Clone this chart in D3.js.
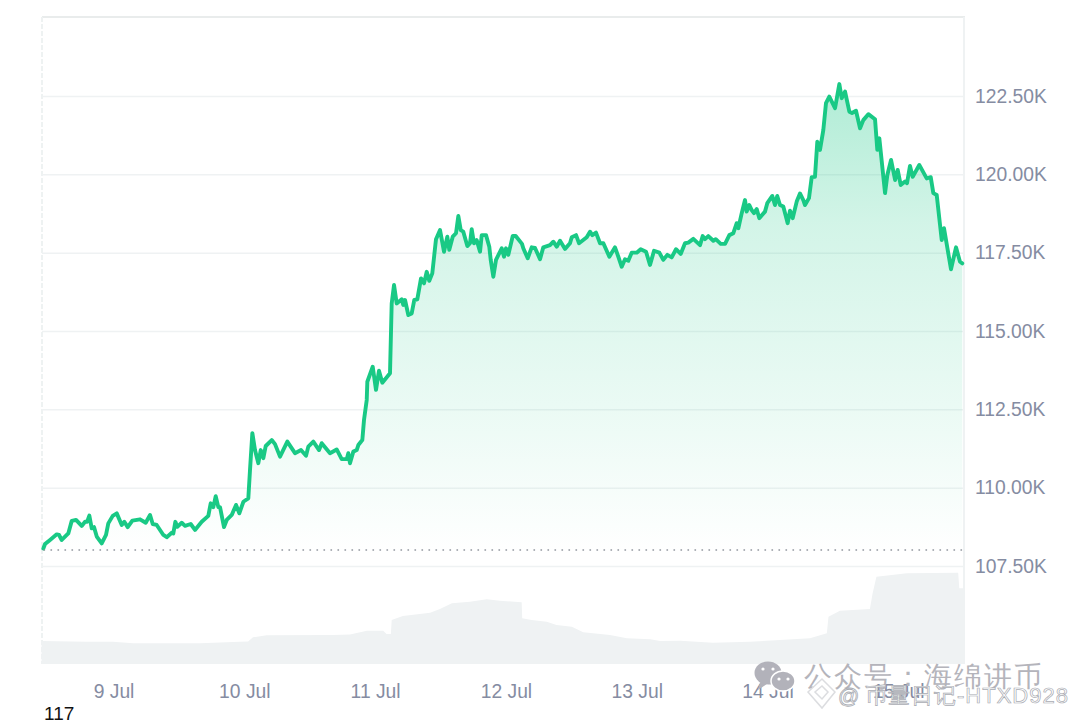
<!DOCTYPE html>
<html><head><meta charset="utf-8">
<script src="https://cdn.jsdelivr.net/npm/d3@7/dist/d3.min.js"></script>
<style>
html,body{margin:0;padding:0;background:#fff;overflow:hidden}
svg{display:block}
text{font-family:"Liberation Sans",Arial,sans-serif}
</style></head><body><svg id="c" width="1080" height="720"></svg>
<script>
// hours since 9 Jul 00:00 UTC
const priceHours=[-12.97,-12.66,-11.74,-10.51,-10.09,-9.6,-8.39,-7.76,-6.97,-5.93,-5.32,-4.95,-4.53,-4.09,-3.67,-3.17,-2.26,-1.47,-1.05,-0.24,0.5,1.41,1.89,2.51,3.36,4.77,5.82,6.61,7.1,7.83,9.05,9.67,10.59,10.88,11.25,11.61,12.42,13.03,14.07,14.86,16.09,17.3,17.74,18.22,18.66,19.14,19.45,20.18,20.68,21.6,22.39,22.99,23.73,24.64,24.95,25.38,25.87,26.48,26.92,27.4,27.84,28.94,29.54,30.46,31.8,33.21,34.31,35.23,35.65,36.57,37.62,38.11,39.63,40.86,41.78,42.7,42.99,43.3,43.91,44.53,44.83,45.56,45.87,46.37,46.48,47.47,48.07,48.62,49.23,50.64,50.95,51.38,51.87,52.79,53.08,53.4,54,54.62,55.1,55.65,56.33,56.88,57.38,57.85,58.4,59.08,59.82,60.55,61.16,61.52,62.15,62.75,63.18,63.62,64.09,64.83,65.32,65.63,66.05,66.55,67.16,67.47,68.26,68.86,69.12,69.6,70.09,71.14,71.56,71.93,72.35,73.16,73.71,74.86,75.1,75.91,76.64,77.25,78.17,78.77,80,80.61,81.23,81.84,82.76,83.67,83.99,84.78,85.33,86.74,87.34,87.77,88.44,89.18,89.79,90.89,91.93,92.54,93.16,93.76,94.37,94.99,95.91,96.64,97.62,98.35,99.09,100.06,100.79,101.53,102.33,103.12,103.98,104.77,105.38,106.3,107.53,108.02,108.44,109.05,109.97,110.41,111.33,112.12,112.91,113.64,114.26,114.56,115.18,115.78,116.09,116.57,117.01,117.43,117.93,118.41,119.45,119.87,120.79,121.28,121.7,122.2,122.81,123.61,124.04,124.53,125.27,125.87,126.48,126.79,127.52,128.02,128.62,129.05,129.54,130.15,130.64,131.25,132.3,133.09,133.53,134.14,134.93,135.42,136.15,136.89,137.49,138.41,139.64,140.06,140.43,141.48,141.9,142.58,143.32,143.8,144.35,145.14,145.51,146.06,146.55,147.76,149.12,149.86,150.34,150.96,151.88,152.3,153.58,154.5,155.23,155.65];
// price in thousands of USD
const priceValues=[108.06,108.2,108.33,108.51,108.49,108.33,108.54,108.94,108.97,108.78,108.91,108.91,109.11,108.7,108.74,108.44,108.22,108.49,108.86,109.1,109.18,108.81,108.91,108.74,108.95,108.99,108.88,109.13,108.84,108.81,108.49,108.42,108.56,108.54,108.91,108.75,108.88,108.78,108.84,108.65,108.91,109.1,109.5,109.38,109.73,109.38,109.38,108.74,108.97,109.13,109.45,109.18,109.55,109.66,110.56,111.74,111.2,110.78,111.2,110.94,111.33,111.52,111.39,110.99,111.47,111.1,111.2,111.02,111.31,111.47,111.2,111.42,111.1,111.22,110.91,110.91,111.1,110.78,111.15,111.2,111.36,111.52,112.16,112.8,113.38,113.86,113.12,113.73,113.35,113.65,115.88,116.47,115.88,116.01,115.83,115.99,115.51,115.56,115.99,116.01,116.68,116.52,116.89,116.6,116.84,117.93,118.22,117.53,118.01,117.59,118.01,118.12,118.67,118.22,118.17,117.71,117.8,118.25,117.8,117.9,117.53,118.06,118.06,117.69,117.27,116.73,117.27,117.64,117.37,117.64,117.43,118.03,118.03,117.78,117.64,117.32,117.67,117.65,117.29,117.67,117.74,117.85,117.69,117.88,117.62,117.8,117.99,118.06,117.8,117.99,118.17,118.06,118.14,117.8,117.8,117.37,117.67,117.37,117.05,117.29,117.24,117.5,117.5,117.61,117.53,117.11,117.56,117.5,117.27,117.43,117.35,117.61,117.46,117.8,117.82,117.94,117.74,118.03,117.93,118.03,117.88,117.93,117.78,117.78,118.06,118.12,118.44,118.28,118.76,119.18,118.81,119.02,118.86,118.76,118.89,118.6,118.81,119.08,119.31,119.02,119.31,119.02,118.97,118.44,118.84,118.6,119.13,119.39,119.18,119.02,119.24,119.91,119.92,121.04,120.78,121.41,122.27,122.48,122.11,122.88,122.43,122.64,122,121.96,122.03,121.47,121.73,121.92,121.76,120.78,121.15,119.4,119.98,120.46,119.82,120.14,119.66,119.77,119.72,120.27,119.92,120.3,119.87,119.91,119.4,119.34,117.9,118.28,116.97,117.67,117.21,117.16];
const volumeHours=[-13.3,-5,-0.2,3.5,15.8,23.1,24.6,25.5,28,40.2,43.3,46.4,47,49.4,50,50.8,50.95,53,58,59.8,62,65.3,68.4,70.8,74.8,74.9,76.6,79.4,81.2,84,86.1,91,94.1,98.4,100.2,103.9,109.9,116.7,122.2,127.7,130.8,131.1,133.2,138.7,139.2,139.9,145.5,154.9,155.1,156];
const volumeValues=[23,22.3,22.3,20.7,20.7,22.3,22.5,26.7,28.7,29,29.5,33.3,33.3,33.3,30,30,44,48,51.3,55,60.7,62.3,64.7,63.3,61.7,45.7,44,42.3,39,37.3,31.7,29,25.7,24.7,23,23.3,21.3,22.3,24,25.7,30.7,47.3,53.3,55,70.7,87.3,90.7,91.3,75.7,75.7];
const priceTicks=[107.5,110,112.5,115,117.5,120,122.5];
const openingPrice=108.01;
const dayLabels=["9 Jul","10 Jul","11 Jul","12 Jul","13 Jul","14 Jul","15 Jul"];
const startDate="2025-07-08T10:47:00Z", endDate="2025-07-15T11:58:00Z", zeroHour="2025-07-09T00:00:00Z";

const toDate=h=>new Date(+new Date(zeroHour)+h*36e5);
const L=42,R=964,T=17,B=566,VB=664;
const svg=d3.select("#c");
const x=d3.scaleUtc().domain([new Date(startDate),new Date(endDate)]).range([L,R]);
const y=d3.scaleLinear().domain([107.5,122.5]).range([B,96]);
const v=d3.scaleLinear().domain([0,100]).range([VB,VB-100]);

const defs=svg.append("defs");
const g=defs.append("linearGradient").attr("id","fade").attr("gradientUnits","userSpaceOnUse")
  .attr("x1",0).attr("x2",0).attr("y1",y(122.88)).attr("y2",y(107.9));
g.append("stop").attr("offset",0).attr("stop-color","#16c784").attr("stop-opacity",0.34);
g.append("stop").attr("offset",0.3).attr("stop-color","#16c784").attr("stop-opacity",0.19);
g.append("stop").attr("offset",0.7).attr("stop-color","#16c784").attr("stop-opacity",0.085);
g.append("stop").attr("offset",1).attr("stop-color","#16c784").attr("stop-opacity",0);

// frame
svg.append("line").attr("x1",L).attr("x2",R+1).attr("y1",T).attr("y2",T).attr("stroke","#e9ecec").attr("stroke-width",2);
svg.append("line").attr("x1",L).attr("x2",L).attr("y1",T).attr("y2",VB).attr("stroke","#eef2f2").attr("stroke-width",2).attr("stroke-dasharray","5 2");
svg.append("line").attr("x1",R).attr("x2",R).attr("y1",T).attr("y2",VB).attr("stroke","#eff2f3").attr("stroke-width",2);

// y axis + grid
const ya=svg.append("g").attr("transform",`translate(${R},0)`)
  .call(d3.axisRight(y).tickValues(priceTicks).tickSize(-(R-L)).tickPadding(11).tickFormat(d=>d3.format(".2f")(d)+"K"));
ya.select(".domain").remove();
ya.selectAll("line").attr("stroke","#eff2f3").attr("stroke-width",1.5);
ya.selectAll("text").attr("fill","#858ca2").attr("font-size",19.3).attr("font-family",'"Liberation Sans",Arial,sans-serif');

// volume
const prs=priceHours.map((h,i)=>({d:toDate(h),p:priceValues[i]}));
const vols=volumeHours.map((h,i)=>({d:toDate(h),q:volumeValues[i]}));
svg.append("clipPath").attr("id","plot").append("rect").attr("x",L-1).attr("y",T).attr("width",R-L+2).attr("height",VB-T);
const layer=svg.append("g").attr("clip-path","url(#plot)");
layer.append("path").datum(vols).attr("fill","#eff2f3")
  .attr("d",d3.area().x(d=>x(d.d)).y0(v(0)).y1(d=>v(d.q)));

// price area and line
layer.append("path").datum(prs).attr("fill","url(#fade)")
  .attr("d",d3.area().x(d=>x(d.d)).y0(y(107.5)).y1(d=>y(d.p)));
svg.append("line").attr("x1",L+2).attr("x2",R-2).attr("y1",y(openingPrice)).attr("y2",y(openingPrice))
  .attr("stroke","#8a8f98").attr("stroke-width",1.4).attr("stroke-linecap","round").attr("stroke-dasharray","0.5 6.5");
layer.append("path").datum(prs).attr("fill","none").attr("stroke","#19c985").attr("stroke-width",3.9)
  .attr("stroke-linejoin","round").attr("stroke-linecap","round")
  .attr("d",d3.line().x(d=>x(d.d)).y(d=>y(d.p)));

// x axis
const dayTicks=dayLabels.map((_,i)=>toDate(i*24));
const xa=svg.append("g").attr("transform",`translate(-0.5,${VB})`)
  .call(d3.axisBottom(x).tickValues(dayTicks).tickSize(0).tickPadding(20).tickFormat((d,i)=>dayLabels[i]));
xa.select(".domain").remove();
xa.selectAll("text").attr("fill","#858ca2").attr("font-size",19.3).attr("font-family",'"Liberation Sans",Arial,sans-serif');

// stray caption
svg.append("text").attr("x",44).attr("y",719.5).attr("font-size",19).attr("fill","#111").text("117");

// watermark
const wm=svg.append("g");
wm.append("ellipse").attr("cx",768).attr("cy",673).attr("rx",13.5).attr("ry",11.5).attr("fill","#b2b2ba");
wm.append("path").attr("d","M760 682 L758 690 L767 684 Z").attr("fill","#b2b2ba");
wm.append("ellipse").attr("cx",783).attr("cy",681).attr("rx",12).attr("ry",10).attr("fill","#b2b2ba").attr("stroke","#fff").attr("stroke-width",1.5);
wm.selectAll("circle.e").data([[763,669],[773,669],[779,679],[788,679]]).join("circle")
  .attr("cx",d=>d[0]).attr("cy",d=>d[1]).attr("r",1.6).attr("fill","#fff");
wm.append("text").attr("x",804).attr("y",686).attr("font-size",28).attr("letter-spacing",2)
  .attr("font-family",'"Noto Sans CJK TC"').attr("font-weight",300).attr("fill","#b4b4bb").text("公众号：海绵讲币");
wm.append("path").attr("d","M822 679 L835 692 L822 708 L808 692 Z M822 686 L828 692 L822 699 L815 692 Z")
  .attr("fill","#fff").attr("stroke","#dcdde0").attr("stroke-width",1.5).attr("fill-rule","evenodd");
wm.append("text").attr("x",838).attr("y",703).attr("font-size",21)
  .attr("fill","#fff").attr("stroke","#a9abb2").attr("stroke-width",0.8).text("@");
wm.append("text").attr("x",865).attr("y",703).attr("font-size",22).attr("letter-spacing",1)
  .attr("font-family",'"Noto Sans CJK SC"').attr("fill","#fff").attr("stroke","#a9abb2").attr("stroke-width",0.7).text("币量日记-HTXD928");
</script></body></html>
